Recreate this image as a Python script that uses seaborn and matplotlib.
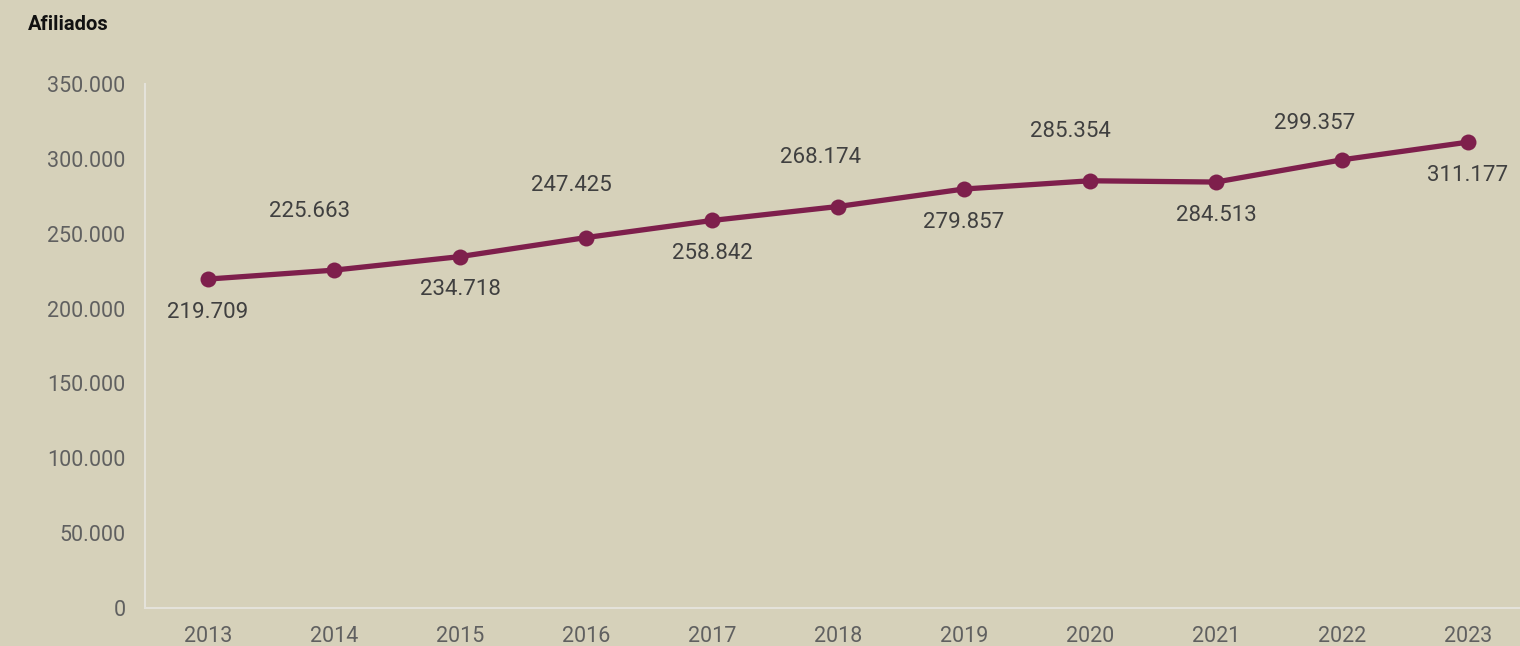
"""
Afiliados por año, 2013-2023
"""

import matplotlib
matplotlib.use("Agg")
import matplotlib.pyplot as plt
import seaborn as sns
import pandas as pd

sns.set_style("white")
plt.rcParams["font.family"] = ["Roboto", "DejaVu Sans"]

years = [2013, 2014, 2015, 2016, 2017, 2018, 2019, 2020, 2021, 2022, 2023]
afiliados = [219709, 225663, 234718, 247425, 258842, 268174,
             279857, 285354, 284513, 299357, 311177]
y_ticks = [0, 50000, 100000, 150000, 200000, 250000, 300000, 350000]

BG = "#D6D1BA"
LINE = "#7E1F4C"
SPINE = "#E4E2DA"


def fmt(v):
    return f"{v:,}".replace(",", ".")


df = pd.DataFrame({"year": years, "afiliados": afiliados})

fig = plt.figure(figsize=(15.2, 6.46), dpi=100, facecolor=BG)
ax = fig.add_axes([145 / 1520, 38 / 646, 1386 / 1520, 524 / 646])
ax.set_facecolor(BG)

sns.lineplot(data=df, x="year", y="afiliados", ax=ax, color=LINE,
             linewidth=3.8, marker="o", markersize=11.5,
             markeredgewidth=0, markerfacecolor=LINE)

# labels alternate below / above the points (offsets in pixels)
label_dx = [0, -24, 0, -15, 0, -17, 0, -20, 0, -27, 0]
label_dy = [-33, 59, -33, 52, -33, 49, -33, 49, -33, 36, -33]
for x, v, dx, dy in zip(years, afiliados, label_dx, label_dy):
    ax.annotate(fmt(v), (x, v), xytext=(dx * 0.72, dy * 0.72),
                textcoords="offset points", ha="center", va="center",
                fontsize=16, color="#404040")

ax.set_xlim(2012.5, 2023.5)
ax.set_ylim(0, 350000)
ax.set_xticks(years)
ax.set_yticks(y_ticks)
ax.set_yticklabels([fmt(t) for t in y_ticks])
ax.tick_params(axis="both", length=0, labelsize=15.5, labelcolor="#606060")
ax.tick_params(axis="y", pad=14)
ax.tick_params(axis="x", pad=13)
ax.set_xlabel("")
ax.set_ylabel("")
ax.grid(False)

for s in ["top", "right"]:
    ax.spines[s].set_visible(False)
for s in ["left", "bottom"]:
    ax.spines[s].set_color(SPINE)
    ax.spines[s].set_linewidth(1.5)

fig.text(28 / 1520, 1 - 25 / 646, "Afiliados", fontsize=14.5, fontweight="bold",
         color="#111111", ha="left", va="center")

fig.savefig("out.png", dpi=100, facecolor=BG)
